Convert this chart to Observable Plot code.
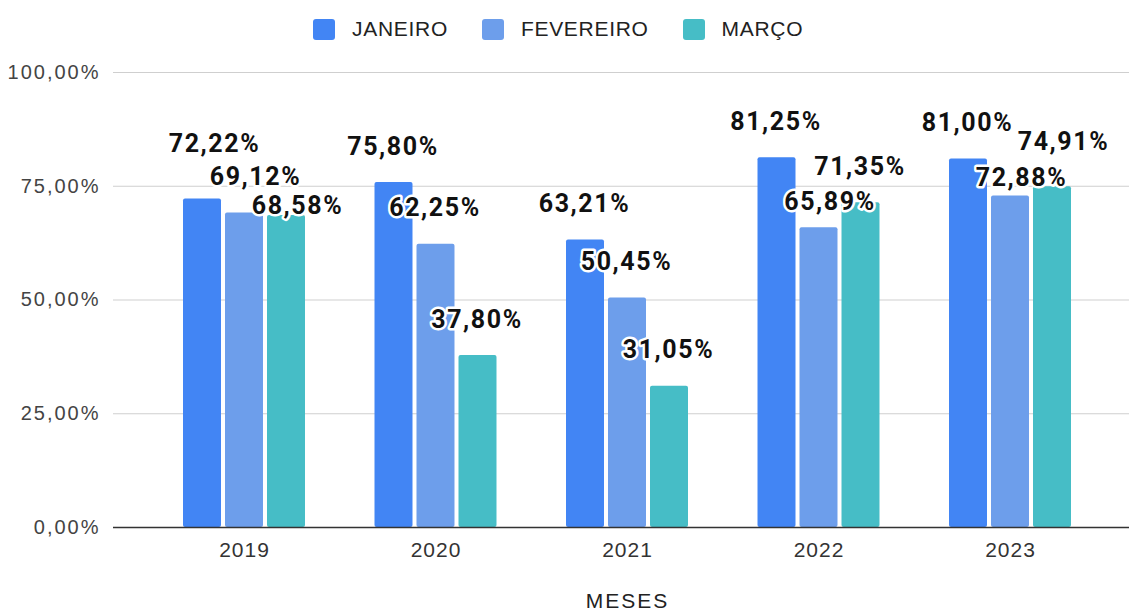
<!DOCTYPE html>
<html>
<head>
<meta charset="utf-8">
<script src="https://cdn.jsdelivr.net/npm/d3@7"></script>
<script src="https://cdn.jsdelivr.net/npm/@observablehq/plot@0.6"></script>
<style>
  body { margin: 0; background: #fff; }
  #legend { height: 58px; box-sizing: border-box; padding: 18px 0 0 313px; display: flex; align-items: flex-start;
    font-family: "Liberation Sans", Arial, sans-serif; font-size: 21px; color: #222; letter-spacing: 0.7px; }
  #legend .item { display: flex; align-items: center; height: 22px; margin-right: 34px; }
  #legend .sw { width: 22px; height: 21px; border-radius: 3px; margin-right: 17px; }
  #chart svg g[aria-label="y-axis tick label"] text { letter-spacing: 2px; }
  #chart svg g[aria-label="x-axis tick label"] text { letter-spacing: 1px; }
</style>
</head>
<body>
<div id="legend"></div>
<div id="chart"></div>
<script>
// ---- data ----
const years = ["2019", "2020", "2021", "2022", "2023"];
const months = ["JANEIRO", "FEVEREIRO", "MARÇO"];
const janeiro = [72.22, 75.80, 63.21, 81.25, 81.00];
const fevereiro = [69.12, 62.25, 50.45, 65.89, 72.88];
const marco = [68.58, 37.80, 31.05, 71.35, 74.91];
const yTicks = [0, 25, 50, 75, 100];
const xTitle = "MESES";

// ---- style / layout ----
const colors = ["#4285F4", "#6D9EEB", "#46BDC6"];
const barOffset = [-42, 0, 42];
// label nudges (px) reproducing the original's collision avoidance
const labelNudge = [
  [[13, -19], [0, 0], [0, 0], [0, 0], [0, 0]],
  [[12, 0], [0, 0], [0, 0], [12, 10], [12, 18]],
  [[12, 27], [0, 0], [0, 0], [0, 0], [12, -9]]
];

const series = [janeiro, fevereiro, marco];
const table = months.flatMap((m, i) => years.map((y, j) => ({year: y, month: m, value: series[i][j], mi: i, yi: j})));
const fmt = d => d.toFixed(2).replace(".", ",") + "%";

// legend
const legend = document.getElementById("legend");
months.forEach((m, i) => {
  const it = document.createElement("div");
  it.className = "item";
  it.innerHTML = `<span class="sw" style="background:${colors[i]}"></span><span>${m}</span>`;
  legend.appendChild(it);
});

const labelMarks = table.map(d => Plot.text([d], {
  x: "year", y: "value", text: d => fmt(d.value),
  dx: barOffset[d.mi] - 1 + labelNudge[d.mi][d.yi][0],
  dy: -36 + labelNudge[d.mi][d.yi][1],
  lineAnchor: "middle", textAnchor: "middle",
  fontFamily: "Roboto, 'Liberation Sans', sans-serif", fontWeight: "bold", fontSize: 25,
  fill: "#111", stroke: "white", strokeWidth: 5, paintOrder: "stroke", className: "datalabel"
}));

const chart = Plot.plot({
  width: 1129, height: 552,
  marginLeft: 113, marginRight: 0, marginTop: 14, marginBottom: 83,
  style: {fontFamily: "'Liberation Sans', Arial, sans-serif", background: "#fff", overflow: "visible"},
  x: {domain: years, paddingInner: 0.8016, paddingOuter: 0, insetLeft: 112, insetRight: 100, round: false, label: null},
  y: {domain: [0, 100], label: null},
  marks: [
    Plot.ruleY(yTicks.filter(d => d > 0), {stroke: "#cfcfcf", strokeWidth: 1.2}),
    ...months.map((m, i) => Plot.barY(table.filter(d => d.mi === i), {
      x: "year", y: "value", fill: colors[i], dx: barOffset[i], rx: 2
    })),
    Plot.ruleY([0], {stroke: "#333", strokeWidth: 1.5}),
    Plot.axisY({ticks: yTicks, tickFormat: fmt, tickSize: 0, tickPadding: 13, fontSize: 20, fill: "#444", label: null}),
    Plot.axisX({tickSize: 0, tickPadding: 15, fontSize: 21, fill: "#333", label: null}),
    Plot.text([xTitle], {frameAnchor: "bottom", dx: 6, dy: 74, lineAnchor: "middle", fontSize: 21, fill: "#222", className: "xtitle"}),
    ...labelMarks
  ]
});
// letter spacing to match the reference's wide text
chart.querySelectorAll("g.datalabel text").forEach(t => t.style.letterSpacing = "1.6px");
chart.querySelectorAll("g.xtitle text").forEach(t => t.style.letterSpacing = "2px");
document.getElementById("chart").appendChild(chart);
</script>
</body>
</html>
